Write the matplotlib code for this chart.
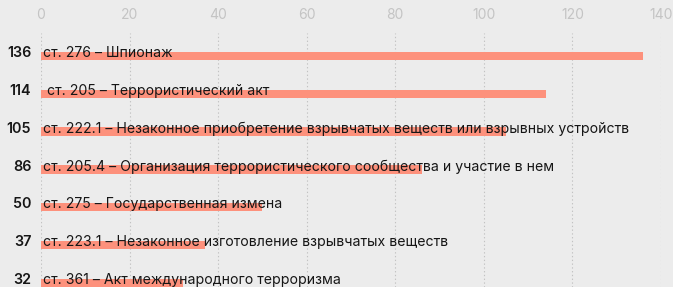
import matplotlib.pyplot as plt
import numpy as np

values = [136, 114, 105, 86, 50, 37, 32]
labels = [
    "ст. 276 – Шпионаж",
    " ст. 205 – Террористический акт",
    "ст. 222.1 – Незаконное приобретение взрывчатых веществ или взрывных устройств",
    "ст. 205.4 – Организация террористического сообщества и участие в нем",
    "ст. 275 – Государственная измена",
    "ст. 223.1 – Незаконное изготовление взрывчатых веществ",
    "ст. 361 – Акт международного терроризма",
]
xticks = [0, 20, 40, 60, 80, 100, 120, 140]

BG = "#ececec"
BAR = "#fd917c"
FONT = "Inter"

fig = plt.figure(figsize=(6.73, 2.87), dpi=100, facecolor=BG)
# axes from x=41px to x=661px, top of grid at y=33px to bottom edge
ax = fig.add_axes([41 / 673, 0, 620 / 673, (287 - 33) / 287])
ax.set_facecolor(BG)

y = np.arange(len(values))
ax.barh(y, values, height=0.22, color=BAR, zorder=2)

ax.set_xlim(0, 140)
ax.set_ylim(6.11, -0.608)
ax.set_xticks(xticks)
ax.xaxis.tick_top()
ax.tick_params(axis="x", length=0, pad=8, labelsize=10, labelcolor="#c4c4c4")
for lab in ax.get_xticklabels():
    lab.set_fontfamily(FONT)
ax.set_yticks([])
ax.grid(axis="x", linestyle=(0, (1.2, 2.2)), color="#c2c2c2", linewidth=0.8, zorder=1)
for s in ax.spines.values():
    s.set_visible(False)

for i, (v, lab) in enumerate(zip(values, labels)):
    ax.annotate(lab, (0, i), xytext=(1.2, -0.8), textcoords="offset points",
                ha="left", va="baseline", fontsize=10.15, family=FONT, color="#161616", zorder=3)
    ax.annotate(str(v), (0, i), xytext=(-7, -0.8), textcoords="offset points",
                ha="right", va="baseline", fontsize=10.3, family=FONT, fontweight="semibold",
                color="#161616", annotation_clip=False)

fig.savefig("out.png", dpi=100, facecolor=BG)
